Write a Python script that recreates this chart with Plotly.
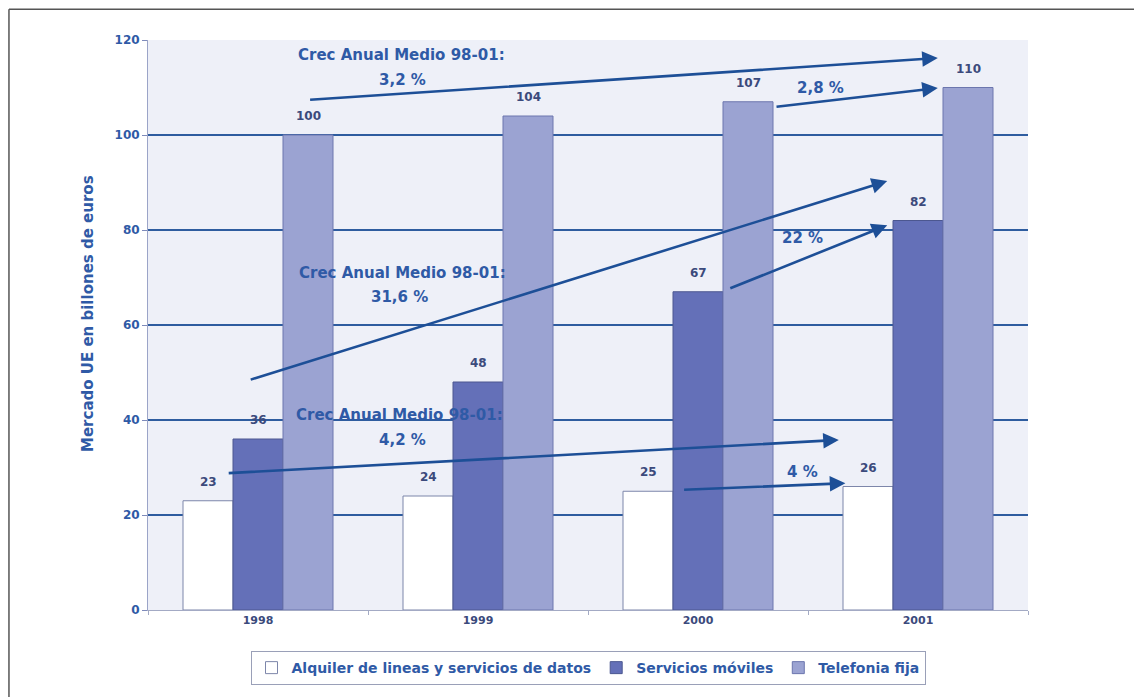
import plotly.graph_objects as go

# Data
years = ["1998", "1999", "2000", "2001"]
alquiler = [23, 24, 25, 26]
moviles = [36, 48, 67, 82]
fija = [100, 104, 107, 110]
series_names = ["Alquiler de lineas y servicios de datos", "Servicios móviles", "Telefonia fija"]
y_ticks = [0, 20, 40, 60, 80, 100, 120]

# Growth arrows: (x_start, y_start, x_end, y_end) in axis units
growth_arrows = [
    (0.23, 107.4, 3.09, 116.2),
    (2.35, 105.9, 3.09, 109.9),
    (-0.04, 48.4, 2.86, 90.3),
    (2.14, 67.6, 2.86, 81.0),
    (-0.14, 28.8, 2.64, 35.8),
    (1.93, 25.3, 2.67, 26.7),
]
# Growth captions: (x, y, text)
growth_texts = [
    (0.65, 116.8, "Crec Anual Medio 98-01:"),
    (0.655, 111.6, "3,2 %"),
    (2.555, 109.9, "2,8 %"),
    (0.655, 70.9, "Crec Anual Medio 98-01:"),
    (0.645, 65.9, "31,6 %"),
    (2.477, 78.3, "22 %"),
    (0.645, 41.0, "Crec Anual Medio 98-01:"),
    (0.655, 35.8, "4,2 %"),
    (2.477, 29.0, "4 %"),
]

FONT = "DejaVu Sans"
BLUE_TXT = "#2f5aa6"
VAL_TXT = "#3b4a7c"
ARROW = "#1d4f97"
GRID = "#2e5c9f"

xpos = list(range(len(years)))
bar_w = 50 / 220
fills = ["#ffffff", "#6470b8", "#9ba3d2"]
lines = ["#7d86aa", "#4c5790", "#6c76ae"]
series = [alquiler, moviles, fija]

fig = go.Figure()
for k, (vals, name) in enumerate(zip(series, series_names)):
    fig.add_trace(go.Bar(
        x=xpos, y=vals, name=name, width=bar_w,
        offset=(k - 1.5) * bar_w,
        marker=dict(color=fills[k], line=dict(color=lines[k], width=1)),
    ))

annotations = []
# Value labels above each bar
for k, vals in enumerate(series):
    for i, v in enumerate(vals):
        annotations.append(dict(
            x=xpos[i] + (k - 1) * bar_w, y=v, xref="x", yref="y",
            text=str(v), showarrow=False, yshift=19,
            font=dict(family=FONT, size=12, color=VAL_TXT, weight="bold"),
        ))

# Growth arrows
for x0, y0, x1, y1 in growth_arrows:
    annotations.append(dict(
        x=x1, y=y1, ax=x0, ay=y0, xref="x", yref="y", axref="x", ayref="y",
        text="", showarrow=True, arrowhead=2, arrowsize=1.2, arrowwidth=2.6,
        arrowcolor=ARROW, standoff=0, startstandoff=0,
    ))

for x, y, t in growth_texts:
    annotations.append(dict(
        x=x, y=y, xref="x", yref="y", text=t, showarrow=False,
        font=dict(family=FONT, size=15, color=BLUE_TXT, weight="bold"),
    ))

# Y axis title
annotations.append(dict(
    x=-0.0807, y=0.521, xref="paper", yref="paper", textangle=-90,
    text="Mercado UE en billones de euros", showarrow=False,
    font=dict(family=FONT, size=15, color=BLUE_TXT, weight="bold"),
))

fig.update_layout(
    width=1134, height=697,
    margin=dict(l=148, r=106, t=40, b=87),
    paper_bgcolor="#ffffff",
    plot_bgcolor="#eef0f8",
    barmode="overlay",
    showlegend=True,
    legend=dict(
        orientation="h", x=0.5, xanchor="center", y=-0.072, yanchor="top",
        bordercolor="#9aa0b8", borderwidth=1, bgcolor="#ffffff",
        font=dict(family=FONT, size=14, color=BLUE_TXT, weight="bold"),
        itemwidth=30, tracegroupgap=0,
    ),
    xaxis=dict(
        range=[-0.5, 3.5], tickmode="array", tickvals=xpos, ticktext=years,
        showgrid=False, zeroline=False, showline=True, linecolor="#a3aac4",
        linewidth=1, ticks="", ticklen=0,
        tickfont=dict(family=FONT, size=11, color=VAL_TXT, weight="bold"),
        minor=dict(tickvals=[-0.5, 0.5, 1.5, 2.5, 3.5], ticks="outside",
                   ticklen=4, tickcolor="#a3aac4", showgrid=False),
    ),
    yaxis=dict(
        range=[0, 120], tickmode="array", tickvals=y_ticks,
        showgrid=True, gridcolor=GRID, gridwidth=2, zeroline=False,
        showline=True, linecolor="#9ba4c8", linewidth=1,
        ticks="outside", ticklen=5, tickcolor="#7f8bbb",
        tickfont=dict(family=FONT, size=12, color=BLUE_TXT, weight="bold"),
    ),
    annotations=annotations,
    shapes=[
        dict(type="line", xref="paper", yref="paper", x0=-0.158, x1=-0.158,
             y0=-0.16, y1=1.054, line=dict(color="#555555", width=1.5)),
        dict(type="line", xref="paper", yref="paper", x0=-0.158, x1=1.13,
             y0=1.054, y1=1.054, line=dict(color="#555555", width=1.5)),
    ],
)

fig.write_html("out.html")
